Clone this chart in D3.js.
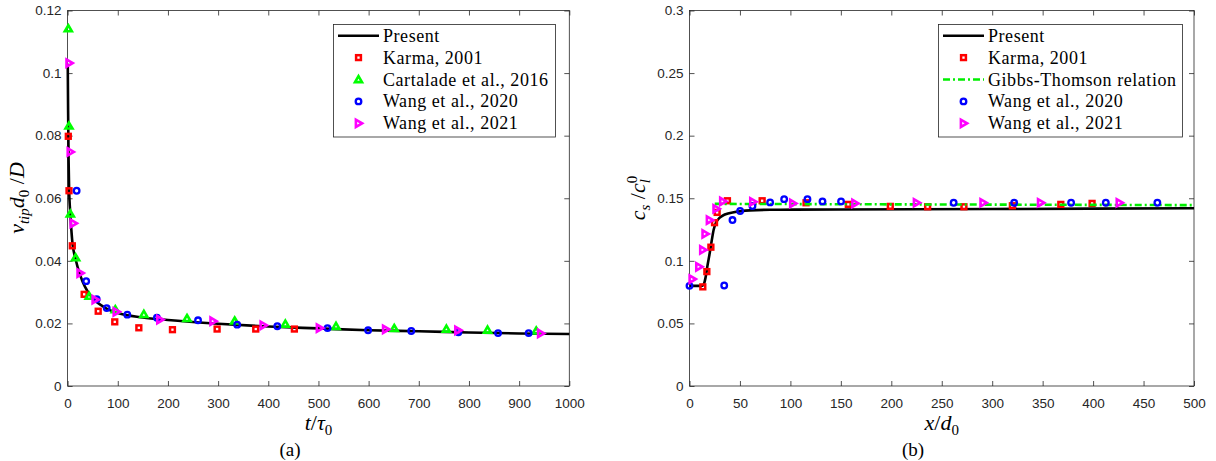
<!DOCTYPE html>
<html>
<head>
<meta charset="utf-8">
<script src="https://cdn.jsdelivr.net/npm/d3@7"></script>
<style>
  body { margin: 0; background: #fff; }
  svg { display: block; }
</style>
</head>
<body>
<svg id="fig" width="1216" height="461"></svg>
<script>
// ---- panel (a): tip velocity vs time ----
const aTicksX = [0, 100, 200, 300, 400, 500, 600, 700, 800, 900, 1000];
const aTicksY = [0, 0.02, 0.04, 0.06, 0.08, 0.1, 0.12];

const aPresentT = [0.3, 1, 2, 3, 5, 7, 9.5, 12, 16, 20, 25, 30, 40, 50, 75, 100, 150, 200, 300, 400, 500, 600, 700, 800, 900, 1000];
const aPresentV = [0.103, 0.088, 0.072, 0.063, 0.056, 0.051, 0.046, 0.0432, 0.0405, 0.038, 0.0355, 0.0333, 0.0302, 0.0281, 0.025, 0.0233, 0.0219, 0.0211, 0.0199, 0.019, 0.0184, 0.0178, 0.0175, 0.0171, 0.0168, 0.0166];

const aKarmaT = [1.4, 2.8, 9.4, 33, 61, 94, 142, 209, 298, 375, 452];
const aKarmaV = [0.0798, 0.0624, 0.0448, 0.0293, 0.0239, 0.0205, 0.0186, 0.018, 0.0182, 0.0182, 0.0182];

const aCartT = [1.4, 2.8, 5.4, 16, 43, 95, 152, 238, 333, 434, 535, 651, 755, 837, 934];
const aCartV = [0.1142, 0.0831, 0.055, 0.041, 0.0287, 0.0244, 0.0229, 0.0216, 0.0208, 0.0198, 0.0191, 0.0184, 0.0182, 0.0179, 0.0176];

const aWang20T = [18, 37, 58, 78, 119, 178, 260, 338, 418, 518, 599, 685, 779, 858, 919];
const aWang20V = [0.0624, 0.0335, 0.0277, 0.0249, 0.0228, 0.0218, 0.021, 0.0196, 0.0191, 0.0185, 0.0178, 0.0176, 0.0172, 0.0169, 0.0169];

const aWang21T = [3, 5.4, 11.4, 25, 55, 97, 184, 290, 390, 502, 634, 778, 943];
const aWang21V = [0.1032, 0.0748, 0.052, 0.0361, 0.0276, 0.0237, 0.0212, 0.0207, 0.0194, 0.0185, 0.0181, 0.0178, 0.0168];

// ---- panel (b): solute profile ----
const bTicksX = [0, 50, 100, 150, 200, 250, 300, 350, 400, 450, 500];
const bTicksY = [0, 0.05, 0.1, 0.15, 0.2, 0.25, 0.3];

const bPresentX = [0, 12, 14, 16, 18, 20, 22, 24, 26, 30, 35, 45, 60, 80, 150, 300, 500];
const bPresentC = [0.08, 0.08, 0.081, 0.087, 0.097, 0.106, 0.116, 0.125, 0.13, 0.1345, 0.137, 0.139, 0.1403, 0.1408, 0.141, 0.1414, 0.142];

const bKarmaX = [13.2, 17.2, 21.2, 24.8, 27.4, 37.6, 72, 115.5, 157.4, 199, 236, 272, 320, 368, 399];
const bKarmaC = [0.0792, 0.0914, 0.1109, 0.1305, 0.1387, 0.148, 0.148, 0.1464, 0.1451, 0.1435, 0.1432, 0.1432, 0.144, 0.1451, 0.1459];

const bGibbsX = [25, 500];
const bGibbsC = [0.1455, 0.1445];

const bWang20X = [0, 34.4, 42.6, 50.2, 62.4, 79.9, 93.8, 116.9, 131.8, 150.2, 261.8, 321.8, 378.2, 412.6, 463.7];
const bWang20C = [0.08, 0.0803, 0.1326, 0.1398, 0.1438, 0.1467, 0.1493, 0.1493, 0.1475, 0.1475, 0.1464, 0.1464, 0.1464, 0.1464, 0.1464];

const bWang21X = [2.7, 9.3, 13.2, 15.5, 19.8, 26.4, 33, 62.8, 102.4, 164, 225, 291, 348, 426];
const bWang21C = [0.0854, 0.0952, 0.1087, 0.1215, 0.1326, 0.1416, 0.1475, 0.1472, 0.1459, 0.1459, 0.1464, 0.1464, 0.1464, 0.1464];

const svg = d3.select("#fig");
const axisColor = "#262626";
const serif = "'Liberation Serif', 'Times New Roman', serif";
const sans = "'Liberation Sans', Arial, sans-serif";

// marker painters (MATLAB style: thick outline, tiny hole)
const markers = {
  square: (g, color) => g.append("rect").attr("x", -2.4).attr("y", -2.4).attr("width", 4.8).attr("height", 4.8)
    .attr("fill", "none").attr("stroke", color).attr("stroke-width", 2.5),
  circle: (g, color) => g.append("circle").attr("r", 2.8)
    .attr("fill", "none").attr("stroke", color).attr("stroke-width", 2.3),
  tri: (g, color) => g.append("path").attr("d", "M0,-3.4L3.5,2.6L-3.5,2.6Z")
    .attr("fill", "none").attr("stroke", color).attr("stroke-width", 2.6).attr("stroke-linejoin", "miter"),
  triRight: (g, color) => g.append("path").attr("d", "M3.6,0L-2.6,3.6L-2.6,-3.6Z")
    .attr("fill", "none").attr("stroke", color).attr("stroke-width", 2.6).attr("stroke-linejoin", "miter")
};

function drawPanel(p) {
  const x = d3.scaleLinear().domain(p.xDomain).range(p.xRange);
  const y = d3.scaleLinear().domain(p.yDomain).range([386, 10.5]);
  const g = svg.append("g");
  const fmt = d3.format("~g");

  const styleAxis = sel => {
    sel.select(".domain").remove();
    sel.selectAll("line").attr("stroke", axisColor).attr("stroke-width", 0.8);
    sel.selectAll("text").attr("fill", axisColor).style("font-family", sans).style("font-size", "13.5px");
  };

  g.append("g").attr("transform", `translate(0,${y.range()[0]})`)
    .call(d3.axisBottom(x).tickValues(p.ticksX).tickFormat(fmt).tickSize(-5).tickPadding(12)).call(styleAxis);
  g.append("g").attr("transform", `translate(0,${y.range()[1]})`)
    .call(d3.axisTop(x).tickValues(p.ticksX).tickFormat("").tickSize(-5)).call(styleAxis);
  g.append("g").attr("transform", `translate(${x.range()[0]},0)`)
    .call(d3.axisLeft(y).tickValues(p.ticksY).tickFormat(fmt).tickSize(-5).tickPadding(6)).call(styleAxis);
  g.append("g").attr("transform", `translate(${x.range()[1]},0)`)
    .call(d3.axisRight(y).tickValues(p.ticksY).tickFormat("").tickSize(-5)).call(styleAxis);

  g.append("rect")
    .attr("x", x.range()[0]).attr("y", y.range()[1])
    .attr("width", x.range()[1] - x.range()[0]).attr("height", y.range()[0] - y.range()[1])
    .attr("fill", "none").attr("stroke", axisColor).attr("stroke-width", 0.8);

  const line = d3.line().x(d => x(d[0])).y(d => y(d[1])).curve(d3.curveMonotoneX);

  p.series.forEach(s => {
    const pts = d3.zip(s.xs, s.ys);
    if (s.kind === "line") {
      g.append("path").datum(pts).attr("d", line)
        .attr("fill", "none").attr("stroke", s.color).attr("stroke-width", s.width)
        .attr("stroke-dasharray", s.dash || null);
    } else {
      g.append("g").selectAll("g").data(pts).enter().append("g")
        .attr("transform", d => `translate(${x(d[0])},${y(d[1])})`)
        .each(function() { markers[s.kind](d3.select(this), s.color); });
    }
  });

  // legend
  const lg = svg.append("g");
  lg.append("rect").attr("x", p.legend.x).attr("y", 24.5).attr("width", p.legend.w).attr("height", 112.5)
    .attr("fill", "#fff").attr("stroke", axisColor).attr("stroke-width", 0.8);
  p.series.forEach((s, i) => {
    const cy = 35.7 + i * 21.9;
    const lx = p.legend.x + 4.5;
    if (s.kind === "line") {
      lg.append("line").attr("x1", lx).attr("x2", lx + 41).attr("y1", cy).attr("y2", cy)
        .attr("stroke", s.color).attr("stroke-width", s.width).attr("stroke-dasharray", s.dash || null);
    } else {
      const mg = lg.append("g").attr("transform", `translate(${lx + 20.5},${cy})`);
      markers[s.kind](mg, s.color);
    }
    lg.append("text").attr("x", lx + 45).attr("y", cy + 6)
      .style("font-family", serif).style("font-size", "18px").style("letter-spacing", "0.55px")
      .attr("fill", "#000").text(s.name);
  });

  // axis labels
  const xl = svg.append("text").attr("x", (x.range()[0] + x.range()[1]) / 2).attr("y", 430)
    .attr("text-anchor", "middle").style("font-family", serif).style("font-size", "22px");
  p.xLabel(xl);
  const yl = svg.append("text")
    .attr("transform", `translate(${p.yLabelX},198) rotate(-90)`)
    .attr("text-anchor", "middle").style("font-family", serif).style("font-size", "22px");
  p.yLabel(yl);

  svg.append("text").attr("x", p.capX).attr("y", 456).attr("text-anchor", "middle")
    .style("font-family", serif).style("font-size", "19px").text(p.caption);
}

function it(t, s) { return t.append("tspan").style("font-style", "italic").text(s); }
function rm(t, s) { return t.append("tspan").text(s); }
function sub(t, s, italic, dy) {
  return t.append("tspan").attr("dy", dy).style("font-size", "15px")
    .style("font-style", italic ? "italic" : "normal").text(s);
}

drawPanel({
  xDomain: [0, 1000], xRange: [67.6, 569.3], yDomain: [0, 0.12],
  ticksX: aTicksX, ticksY: aTicksY,
  legend: { x: 333.5, w: 222 },
  series: [
    { name: "Present", kind: "line", color: "#000", width: 2.6, xs: aPresentT, ys: aPresentV },
    { name: "Karma, 2001", kind: "square", color: "#ff0000", xs: aKarmaT, ys: aKarmaV },
    { name: "Cartalade et al., 2016", kind: "tri", color: "#00ff00", xs: aCartT, ys: aCartV },
    { name: "Wang et al., 2020", kind: "circle", color: "#0000ff", xs: aWang20T, ys: aWang20V },
    { name: "Wang et al., 2021", kind: "triRight", color: "#ff00ff", xs: aWang21T, ys: aWang21V }
  ],
  xLabel: t => { it(t, "t"); rm(t, "/"); it(t, "τ"); sub(t, "0", false, 5); },
  yLabel: t => { it(t, "v"); sub(t, "tip", true, 5); it(t, "d").attr("dy", -5); sub(t, "0", false, 5); rm(t, " /").attr("dy", -5); it(t, "D"); },
  yLabelX: 24,
  capX: 290, caption: "(a)"
});

drawPanel({
  xDomain: [0, 500], xRange: [689.5, 1194], yDomain: [0, 0.3],
  ticksX: bTicksX, ticksY: bTicksY,
  legend: { x: 938.5, w: 244 },
  series: [
    { name: "Present", kind: "line", color: "#000", width: 2.6, xs: bPresentX, ys: bPresentC },
    { name: "Karma, 2001", kind: "square", color: "#ff0000", xs: bKarmaX, ys: bKarmaC },
    { name: "Gibbs-Thomson relation", kind: "line", color: "#00ee00", width: 2.6, dash: "7,3,2,3", xs: bGibbsX, ys: bGibbsC },
    { name: "Wang et al., 2020", kind: "circle", color: "#0000ff", xs: bWang20X, ys: bWang20C },
    { name: "Wang et al., 2021", kind: "triRight", color: "#ff00ff", xs: bWang21X, ys: bWang21C }
  ],
  xLabel: t => { it(t, "x"); rm(t, "/"); it(t, "d"); sub(t, "0", false, 5); },
  yLabel: t => {
    it(t, "c"); sub(t, "s", true, 5); rm(t, " /").attr("dy", -5); it(t, "c");
    sub(t, "0", false, -8); sub(t, "l", true, 13).attr("dx", -7.5);
  },
  yLabelX: 645,
  capX: 913, caption: "(b)"
});
</script>
</body>
</html>
